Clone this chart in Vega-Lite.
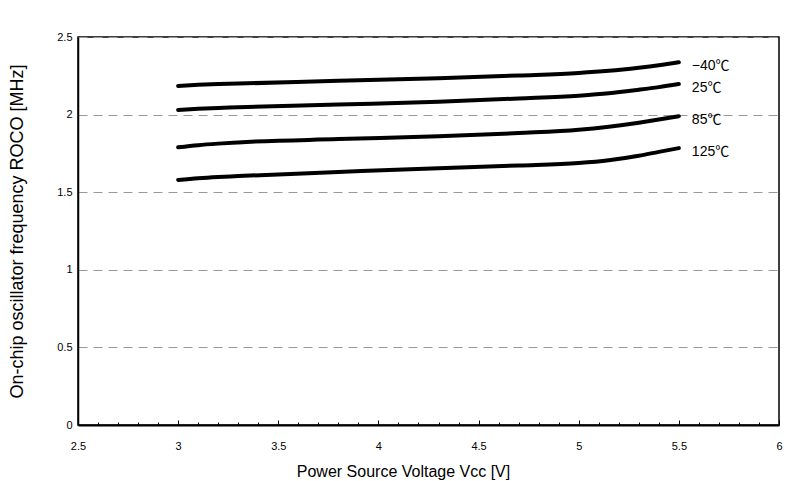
{
  "$schema": "https://vega.github.io/schema/vega-lite/v6.json",
  "width": 701,
  "height": 388,
  "autosize": {"type": "none"},
  "padding": {"left": 78, "top": 37, "right": 31, "bottom": 56},
  "background": "white",
  "title": {
    "text": "On-chip oscillator frequency characteristics (ROCO - (VCC))",
    "anchor": "start",
    "frame": "group",
    "baseline": "alphabetic",
    "offset": 34,
    "dx": -70,
    "font": "Liberation Sans",
    "fontSize": 14,
    "fontWeight": "normal",
    "color": "black"
  },
  "config": {
    "view": {"stroke": "black", "strokeWidth": 1.5},
    "axis": {"labelFont": "Liberation Sans", "labelFontSize": 11, "labelColor": "black", "titleFont": "Liberation Sans", "titleFontSize": 16, "titleFontWeight": "normal", "titleColor": "black", "domainColor": "black"}
  },
  "data": {
    "values": [
      {"v": 3.0, "f": 2.185, "t": "−40℃"},
      {"v": 3.1, "f": 2.192, "t": "−40℃"},
      {"v": 3.2, "f": 2.197, "t": "−40℃"},
      {"v": 3.3, "f": 2.200, "t": "−40℃"},
      {"v": 3.8, "f": 2.218, "t": "−40℃"},
      {"v": 4.3, "f": 2.234, "t": "−40℃"},
      {"v": 4.7, "f": 2.252, "t": "−40℃"},
      {"v": 5.0, "f": 2.268, "t": "−40℃"},
      {"v": 5.15, "f": 2.282, "t": "−40℃"},
      {"v": 5.3, "f": 2.302, "t": "−40℃"},
      {"v": 5.4, "f": 2.318, "t": "−40℃"},
      {"v": 5.5, "f": 2.337, "t": "−40℃"},
      {"v": 3.0, "f": 2.030, "t": "25℃"},
      {"v": 3.1, "f": 2.037, "t": "25℃"},
      {"v": 3.2, "f": 2.043, "t": "25℃"},
      {"v": 3.3, "f": 2.047, "t": "25℃"},
      {"v": 3.8, "f": 2.065, "t": "25℃"},
      {"v": 4.3, "f": 2.083, "t": "25℃"},
      {"v": 4.7, "f": 2.104, "t": "25℃"},
      {"v": 5.0, "f": 2.122, "t": "25℃"},
      {"v": 5.15, "f": 2.137, "t": "25℃"},
      {"v": 5.3, "f": 2.160, "t": "25℃"},
      {"v": 5.4, "f": 2.177, "t": "25℃"},
      {"v": 5.5, "f": 2.197, "t": "25℃"},
      {"v": 3.0, "f": 1.789, "t": "85℃"},
      {"v": 3.1, "f": 1.803, "t": "85℃"},
      {"v": 3.2, "f": 1.813, "t": "85℃"},
      {"v": 3.3, "f": 1.821, "t": "85℃"},
      {"v": 3.8, "f": 1.842, "t": "85℃"},
      {"v": 4.3, "f": 1.860, "t": "85℃"},
      {"v": 4.7, "f": 1.881, "t": "85℃"},
      {"v": 5.0, "f": 1.902, "t": "85℃"},
      {"v": 5.15, "f": 1.922, "t": "85℃"},
      {"v": 5.3, "f": 1.948, "t": "85℃"},
      {"v": 5.4, "f": 1.968, "t": "85℃"},
      {"v": 5.5, "f": 1.990, "t": "85℃"},
      {"v": 3.0, "f": 1.579, "t": "125℃"},
      {"v": 3.1, "f": 1.590, "t": "125℃"},
      {"v": 3.2, "f": 1.598, "t": "125℃"},
      {"v": 3.3, "f": 1.604, "t": "125℃"},
      {"v": 3.8, "f": 1.630, "t": "125℃"},
      {"v": 4.3, "f": 1.655, "t": "125℃"},
      {"v": 4.7, "f": 1.672, "t": "125℃"},
      {"v": 5.0, "f": 1.688, "t": "125℃"},
      {"v": 5.15, "f": 1.706, "t": "125℃"},
      {"v": 5.3, "f": 1.735, "t": "125℃"},
      {"v": 5.4, "f": 1.760, "t": "125℃"},
      {"v": 5.5, "f": 1.784, "t": "125℃"}
    ]
  },
  "encoding": {
    "x": {
      "field": "v",
      "type": "quantitative",
      "scale": {"domain": [2.5, 6], "nice": false, "zero": false},
      "axis": {
        "title": "Power Source Voltage Vcc [V]",
        "values": [2.5, 2.6, 2.7, 2.8, 2.9, 3, 3.1, 3.2, 3.3, 3.4, 3.5, 3.6, 3.7, 3.8, 3.9, 4, 4.1, 4.2, 4.3, 4.4, 4.5, 4.6, 4.7, 4.8, 4.9, 5, 5.1, 5.2, 5.3, 5.4, 5.5, 5.6, 5.7, 5.8, 5.9, 6],
        "labelExpr": "abs(datum.value * 2 - round(datum.value * 2)) < 0.001 ? datum.label : ''",
        "format": "~g",
        "grid": false,
        "tickColor": "black",
        "tickWidth": 1,
        "tickSize": {"condition": {"test": "abs(datum.value * 2 - round(datum.value * 2)) < 0.001", "value": -5}, "value": -3},
        "labelPadding": 20,
        "domainWidth": 2,
        "titleX": 325,
        "titleY": 51,
        "titleBaseline": "alphabetic",
        "titleAlign": "center",
        "labelFlush": false
      }
    },
    "y": {
      "field": "f",
      "type": "quantitative",
      "scale": {"domain": [0, 2.5], "nice": false},
      "axis": {
        "title": "On-chip oscillator frequency ROCO [MHz]",
        "titleFontSize": 18,
        "values": [0, 0.5, 1, 1.5, 2, 2.5],
        "format": "~g",
        "ticks": false,
        "labelPadding": 6,
        "domainWidth": 1.5,
        "grid": true,
        "gridColor": "#999999",
        "gridDash": [9, 6],
        "gridWidth": 1,
        "titleX": -61,
        "titleY": 194,
        "titleAlign": "center",
        "titleBaseline": "middle",
        "titleAngle": -90
      }
    }
  },
  "layer": [
    {
      "mark": {"type": "line", "color": "black", "strokeWidth": 4, "strokeCap": "round", "interpolate": "monotone"},
      "encoding": {"detail": {"field": "t"}}
    },
    {
      "transform": [{"filter": "datum.v == 5.5"}],
      "mark": {"type": "text", "align": "left", "baseline": "middle", "dx": 13, "dy": 4, "font": "Liberation Sans, Noto Sans CJK JP", "fontSize": 14, "color": "black"},
      "encoding": {"text": {"field": "t"}}
    }
  ]
}
